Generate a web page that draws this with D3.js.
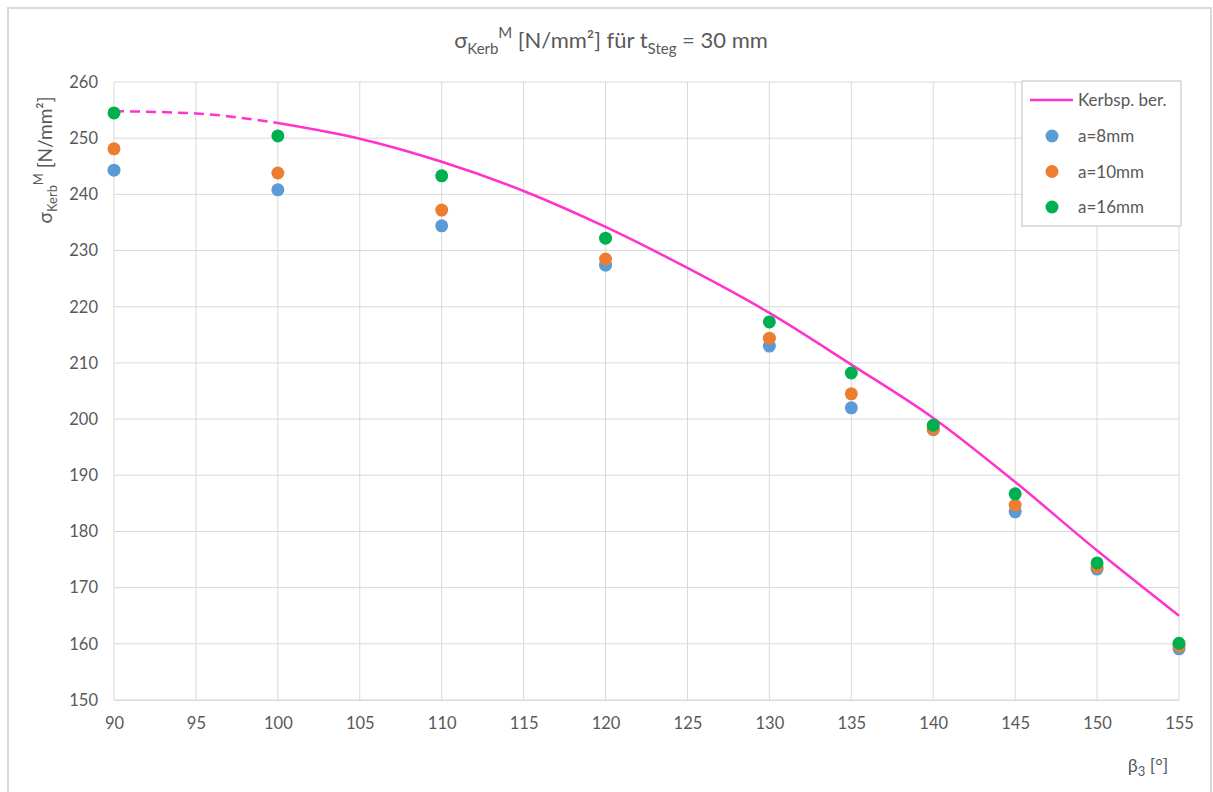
<!DOCTYPE html>
<html>
<head>
<meta charset="utf-8">
<script src="https://cdn.jsdelivr.net/npm/d3@7"></script>
<style>
  body { margin: 0; background: #fff; }
  svg text { font-family: Lato, "Open Sans", sans-serif; fill: #595959; }
</style>
</head>
<body>
<svg id="chart"></svg>
<script>
// data
const angles = [90, 100, 110, 120, 130, 135, 140, 145, 150, 155];
const a8  = [244.3, 240.8, 234.4, 227.4, 213.0, 202.0, 198.1, 183.5, 173.3, 159.1];
const a10 = [248.1, 243.8, 237.2, 228.5, 214.4, 204.5, 198.2, 184.7, 173.7, 159.6];
const a16 = [254.5, 250.4, 243.3, 232.2, 217.3, 208.2, 198.9, 186.7, 174.4, 160.1];

const curveX = [90, 95, 100, 105, 110, 115, 120, 125, 130, 135, 140, 145, 150, 155];
const curveY = [254.8, 254.4, 252.7, 249.9, 245.8, 240.6, 234.2, 226.9, 218.9, 209.7, 200.2, 188.8, 176.6, 165.0];

const xTicks = d3.range(90, 156, 5);
const yTicks = d3.range(150, 261, 10);

const seriesNames = ["a=8mm", "a=10mm", "a=16mm"];
const seriesColors = ["#5B9BD5", "#ED7D31", "#00B050"];
const lineColor = "#FF33CC";

const width = 1213, height = 792;
const margin = { top: 82, right: 34, bottom: 92, left: 114 };

const svg = d3.select("#chart").attr("width", width).attr("height", height);

// chart border
svg.append("rect")
   .attr("x", 8).attr("y", 8)
   .attr("width", 1203).attr("height", 800)
   .attr("fill", "none").attr("stroke", "#d9d9d9").attr("stroke-width", 2);

const x = d3.scaleLinear().domain([90, 155]).range([margin.left, width - margin.right]);
const y = d3.scaleLinear().domain([150, 260]).range([height - margin.bottom, margin.top]);

// grid
svg.append("g").selectAll("line").data(yTicks).enter().append("line")
   .attr("x1", x(90)).attr("x2", x(155))
   .attr("y1", d => y(d)).attr("y2", d => y(d))
   .attr("stroke", "#d9d9d9").attr("stroke-width", 1);
svg.append("g").selectAll("line").data(xTicks).enter().append("line")
   .attr("x1", d => x(d)).attr("x2", d => x(d))
   .attr("y1", y(150)).attr("y2", y(260))
   .attr("stroke", "#d9d9d9").attr("stroke-width", 1);

// axes
const xAxis = d3.axisBottom(x).tickValues(xTicks).tickSize(0).tickPadding(17);
svg.append("g")
   .attr("transform", "translate(0," + y(150) + ")")
   .call(xAxis)
   .call(g => g.select(".domain").attr("stroke", "#d9d9d9"))
   .selectAll("text").style("font-size", "16.5px");

const yAxis = d3.axisLeft(y).tickValues(yTicks).tickSize(0).tickPadding(16);
svg.append("g")
   .attr("transform", "translate(" + x(90) + ",0)")
   .call(yAxis)
   .call(g => g.select(".domain").remove())
   .selectAll("text").style("font-size", "16.5px");

// curve
const curvePts = curveX.map((d, i) => [d, curveY[i]]);
const line = d3.line().x(d => x(d[0])).y(d => y(d[1])).curve(d3.curveMonotoneX);
svg.append("path")
   .attr("d", line(curvePts.filter(d => d[0] <= 100)))
   .attr("fill", "none").attr("stroke", lineColor).attr("stroke-width", 2.5)
   .attr("stroke-dasharray", "10,6");
svg.append("path")
   .attr("d", line(curvePts.filter(d => d[0] >= 100)))
   .attr("fill", "none").attr("stroke", lineColor).attr("stroke-width", 2.5);

// points
[a8, a10, a16].forEach((vals, s) => {
  svg.append("g").selectAll("circle").data(vals).enter().append("circle")
     .attr("cx", (d, i) => x(angles[i]))
     .attr("cy", d => y(d))
     .attr("r", 6.5)
     .attr("fill", seriesColors[s]);
});

// title
const title = svg.append("text")
   .attr("x", 611).attr("y", 48)
   .attr("text-anchor", "middle")
   .style("font-size", "22px");
title.append("tspan").text("σ");
title.append("tspan").text("Kerb").attr("dy", 6).style("font-size", "15px");
title.append("tspan").text("M").attr("dy", -16).style("font-size", "15px");
title.append("tspan").text(" [N/mm²] für t").attr("dy", 10);
title.append("tspan").text("Steg").attr("dy", 6).style("font-size", "15px");
title.append("tspan").text(" = 30 mm").attr("dy", -6);

// y label
const ylab = svg.append("text")
   .attr("transform", "translate(52,160) rotate(-90)")
   .attr("text-anchor", "middle")
   .style("font-size", "19px");
ylab.append("tspan").text("σ");
ylab.append("tspan").text("Kerb").attr("dy", 5).style("font-size", "13px");
ylab.append("tspan").text("M").attr("dy", -14).style("font-size", "13px");
ylab.append("tspan").text(" [N/mm²]").attr("dy", 9);

// x label
const xlab = svg.append("text")
   .attr("x", 1148).attr("y", 772)
   .attr("text-anchor", "middle")
   .style("font-size", "18px");
xlab.append("tspan").text("β");
xlab.append("tspan").text("3").attr("dy", 4).style("font-size", "13px");
xlab.append("tspan").text(" [°]").attr("dy", -4);

// legend
const legend = svg.append("g").attr("transform", "translate(1022,81)");
legend.append("rect")
   .attr("width", 159).attr("height", 145)
   .attr("fill", "#fff").attr("stroke", "#bfbfbf").attr("stroke-width", 1);
legend.append("line")
   .attr("x1", 8).attr("x2", 51).attr("y1", 19).attr("y2", 19)
   .attr("stroke", lineColor).attr("stroke-width", 2.5);
legend.append("text").attr("x", 56).attr("y", 25).text("Kerbsp. ber.").style("font-size", "17px");
seriesNames.forEach((name, i) => {
  legend.append("circle")
     .attr("cx", 30).attr("cy", 55 + i * 35.5).attr("r", 6.5)
     .attr("fill", seriesColors[i]);
  legend.append("text")
     .attr("x", 56).attr("y", 61 + i * 35.5)
     .text(name).style("font-size", "17px");
});
</script>
</body>
</html>
